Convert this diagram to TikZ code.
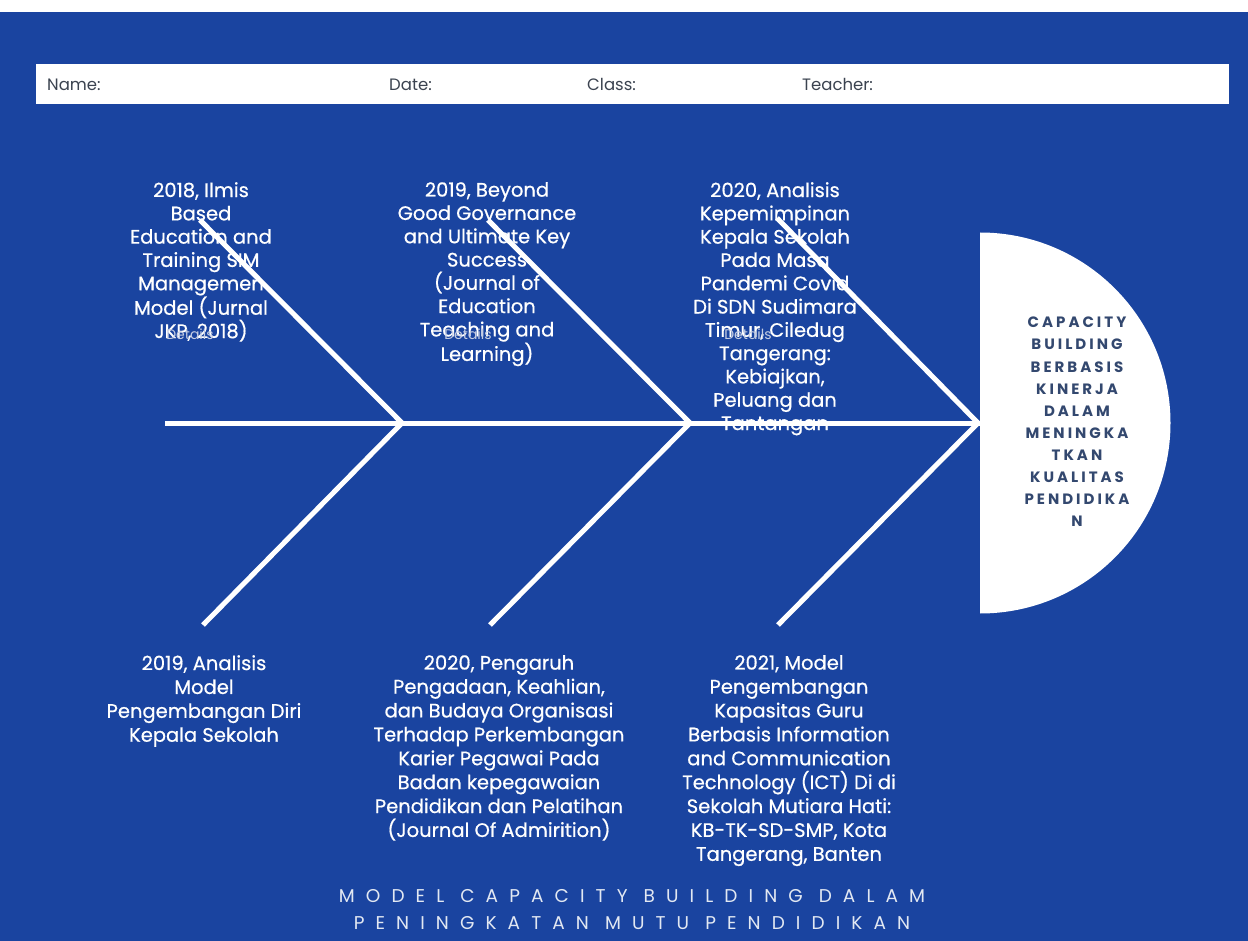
\documentclass[tikz,border=0pt]{standalone}
\usepackage{fontspec}
\setmainfont{Poppins}
\newfontfamily\bonefont[FakeBold=0.6]{Poppins}
\newfontfamily\headfont[LetterSpace=20]{Poppins}
\newfontfamily\titlefont[LetterSpace=60]{Poppins}
\definecolor{bg}{HTML}{1A44A0}
\definecolor{headtext}{HTML}{33486F}
\definecolor{labtext}{HTML}{3B4350}
\definecolor{ghost}{HTML}{C5CDE3}
\definecolor{titletext}{HTML}{E2E8F2}
\tikzset{
  bone/.style={draw=white, line width=5pt},
  bonetxt/.style={text=white, align=center, inner sep=0pt, font=\bonefont\fontsize{19.5}{23.3}\selectfont},
  bonetxtlow/.style={bonetxt, font=\bonefont\fontsize{19.5}{23.9}\selectfont},
  ghosttxt/.style={text=ghost, inner sep=0pt, font=\fontsize{14}{16}\selectfont},
  headlbl/.style={text=labtext, inner sep=0pt, anchor=base west, font=\fontsize{16.5}{18}\selectfont},
  headbar/.style={fill=white, draw=none, minimum width=1193pt, minimum height=40pt, inner sep=0pt},
  headtxt/.style={text=headtext, align=center, inner sep=0pt, font=\headfont\bfseries\fontsize{15}{22.1}\selectfont},
  titletxt/.style={text=titletext, align=center, inner sep=0pt, font=\titlefont\fontsize{18.5}{27}\selectfont}
}
\begin{document}
\begin{tikzpicture}[x=1pt,y=-1pt]
\useasboundingbox (0,0) rectangle (1248,941);
\fill[white] (0,0) rectangle (1248,941);
\fill[bg] (0,12) rectangle (1248,941);
% header bar
\node[headbar] (bar) at (632.5,84) {};
\node[headlbl] (name) at (47,91) {Name:};
\node[headlbl] (date) at (389,91) {Date:};
\node[headlbl] (class) at (587,91) {Class:};
\node[headlbl] (teacher) at (802,91) {Teacher:};
% head semicircle
\begin{scope}
\clip (980,0) rectangle (1248,941);
\fill[white] (980,423) circle[radius=190.5];
\end{scope}
\coordinate (head) at (980,423);
\node[headtxt, anchor=north] (effect) at (1077,317) {CAPACITY\\BUILDING\\BERBASIS\\KINERJA\\DALAM\\MENINGKA\\TKAN\\KUALITAS\\PENDIDIKA\\N};
% spine and joints
\coordinate (tail) at (165,423);
\coordinate (j1) at (402,423);
\coordinate (j2) at (690,423);
\coordinate (j3) at (978,423);
\coordinate (u1) at (200,220);
\coordinate (u2) at (488,220);
\coordinate (u3) at (777,218);
\coordinate (l1) at (203,625);
\coordinate (l2) at (490,625);
\coordinate (l3) at (778,625);
% texts (upper)
\node[bonetxt, anchor=north] (t1) at (201,182) {2018, Ilmis\\Based\\Education and\\Training SIM\\Managemen\\Model (Jurnal\\JKP, 2018)};
\node[bonetxt, anchor=north] (t2) at (487,182) {2019, Beyond\\Good Governance\\and Ultimate Key\\Success\\(Journal of\\Education\\Teaching and\\Learning)};
\node[bonetxt, anchor=north] (t3) at (775,182) {2020, Analisis\\Kepemimpinan\\Kepala Sekolah\\Pada Masa\\Pandemi Covid\\Di SDN Sudimara\\Timur, Ciledug\\Tangerang:\\Kebiajkan,\\Peluang dan\\Tantangan};
\node[ghosttxt] (g1) at (190,334) {Details};
\node[ghosttxt] (g2) at (468,334) {Details};
\node[ghosttxt] (g3) at (748,334) {Details};
% bones
\draw[bone] (tail) -- (head);
\draw[bone] (u1) -- (j1) -- (l1);
\draw[bone] (u2) -- (j2) -- (l2);
\draw[bone] (u3) -- (j3) -- (l3);
% texts (lower)
\node[bonetxtlow, anchor=north] (b1) at (204,655) {2019, Analisis\\Model\\Pengembangan Diri\\Kepala Sekolah};
\node[bonetxtlow, anchor=north] (b2) at (499,655) {2020, Pengaruh\\Pengadaan, Keahlian,\\dan Budaya Organisasi\\Terhadap Perkembangan\\Karier Pegawai Pada\\Badan kepegawaian\\Pendidikan dan Pelatihan\\(Journal Of Admirition)};
\node[bonetxtlow, anchor=north] (b3) at (789,655) {2021, Model\\Pengembangan\\Kapasitas Guru\\Berbasis Information\\and Communication\\Technology (ICT) Di di\\Sekolah Mutiara Hati:\\KB-TK-SD-SMP, Kota\\Tangerang, Banten};
% title
\node[titletxt, anchor=north] (title) at (632,889) {MODEL CAPACITY BUILDING DALAM\\PENINGKATAN MUTU PENDIDIKAN};
\end{tikzpicture}
\end{document}
